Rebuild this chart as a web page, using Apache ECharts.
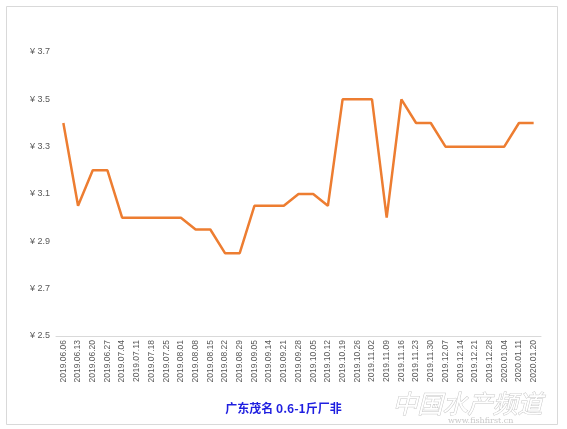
<!DOCTYPE html>
<html>
<head>
<meta charset="utf-8">
<script src="https://cdn.jsdelivr.net/npm/echarts@6/dist/echarts.min.js"></script>
<style>
html,body{margin:0;padding:0;background:#fff;}
#chart{width:567px;height:429px;}
</style>
</head>
<body>
<div id="chart"></div>
<script>
var categories = ["2019.06.06","2019.06.13","2019.06.20","2019.06.27","2019.07.04","2019.07.11","2019.07.18","2019.07.25","2019.08.01","2019.08.08","2019.08.15","2019.08.22","2019.08.29","2019.09.05","2019.09.14","2019.09.21","2019.09.28","2019.10.05","2019.10.12","2019.10.19","2019.10.26","2019.11.02","2019.11.09","2019.11.16","2019.11.23","2019.11.30","2019.12.07","2019.12.14","2019.12.21","2019.12.28","2020.01.04","2020.01.11","2020.01.20"];
var prices = [3.4,3.05,3.2,3.2,3.0,3.0,3.0,3.0,3.0,2.95,2.95,2.85,2.85,3.05,3.05,3.05,3.1,3.1,3.05,3.5,3.5,3.5,3.0,3.5,3.4,3.4,3.3,3.3,3.3,3.3,3.3,3.4,3.4];
var titleText = "广东茂名 0.6-1斤厂非";
var yMin = 2.5, yMax = 3.7, yStep = 0.2;

var chart = echarts.init(document.getElementById('chart'), null, {renderer:'canvas'});
chart.setOption({
  animation: false,
  backgroundColor: '#fff',
  title: {
    text: titleText,
    left: 'center',
    top: 397,
    textStyle: {color: '#1f1fe0', fontSize: 12, fontWeight: 'bold', fontFamily: 'Noto Sans CJK SC'}
  },
  graphic: [
    {type:'rect', shape:{x:6.5,y:6.5,width:551,height:418}, style:{fill:'none', stroke:'#d9d9d9', lineWidth:1}, z:-1},
    {type:'text', left:392, top:390, style:{text:'中国水产频道', font:'italic 25px "Noto Sans CJK SC"', fill:'#fff', stroke:'#c8c8c8', lineWidth:1}},
    {type:'text', left:448, top:417, style:{text:'www.fishfirst.cn', font:'8px "DejaVu Serif"', fill:'#c8c8c8'}}
  ],
  grid: {left: 56, right: 26, top: 52, bottom: 93},
  xAxis: {
    type: 'category',
    data: categories,
    boundaryGap: true,
    axisLine: {lineStyle: {color: '#d9d9d9'}},
    axisTick: {show: false},
    axisLabel: {rotate: 90, interval: 0, fontSize: 8.5, color: '#595959', fontFamily: 'Liberation Sans', margin: 4}
  },
  yAxis: {
    type: 'value',
    min: yMin, max: yMax, interval: yStep,
    splitLine: {show: false},
    axisLine: {show: false},
    axisTick: {show: false},
    axisLabel: {fontSize: 9, color: '#595959', fontFamily: 'Liberation Sans', margin: 6,
      formatter: function(v){ return '¥ ' + v.toFixed(1); }}
  },
  series: [{
    type: 'line',
    data: prices,
    symbol: 'none',
    lineStyle: {color: '#ED7D31', width: 2.5},
    itemStyle: {color: '#ED7D31'}
  }]
});
</script>
</body>
</html>
